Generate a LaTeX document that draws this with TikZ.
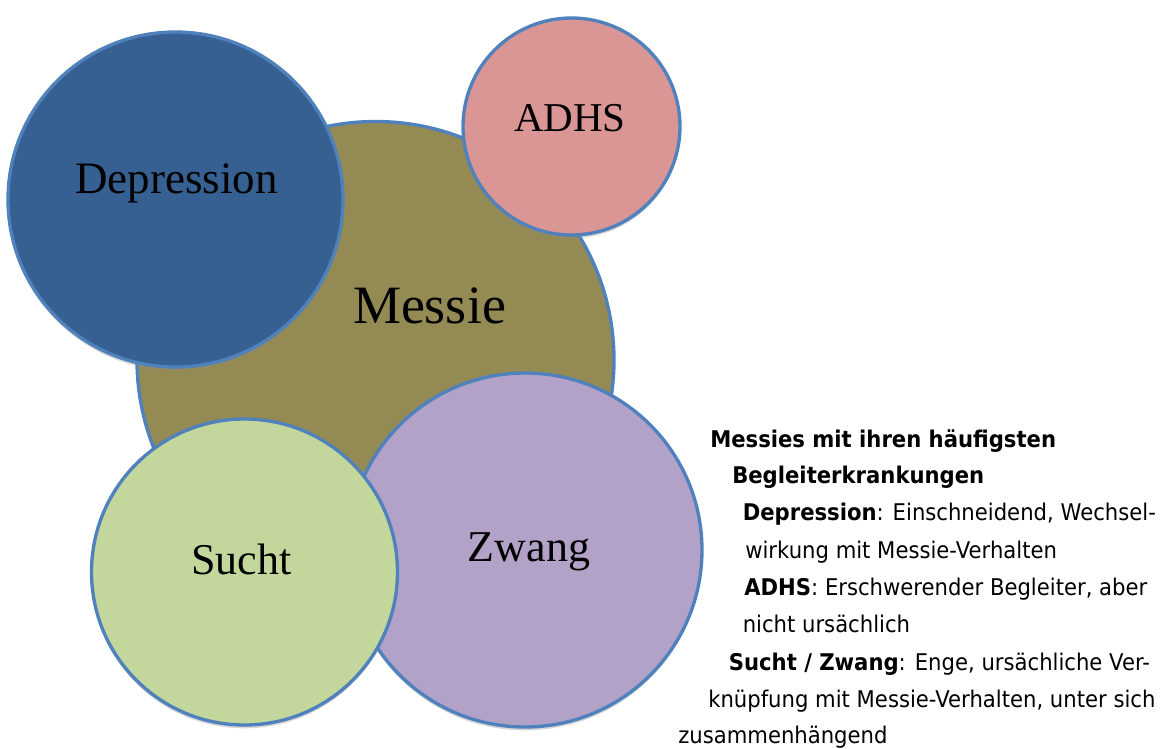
\documentclass[tikz,border=0pt]{standalone}
\usepackage{fontspec}
\setmainfont{Liberation Serif}
\newfontfamily\sidefont[FakeStretch=0.92]{DejaVu Sans}
\usetikzlibrary{shadows}
\definecolor{cStroke}{HTML}{4F81BD}
\definecolor{cDep}{HTML}{366092}
\definecolor{cMes}{HTML}{948A54}
\definecolor{cAdhs}{HTML}{D99694}
\definecolor{cSucht}{HTML}{C3D69B}
\definecolor{cZwang}{HTML}{B2A2C7}
\tikzset{
  blob/.style={circle, draw=cStroke, line width=2.5pt, inner sep=0pt, outer sep=0pt,
    drop shadow={shadow xshift=0pt, shadow yshift=-2.5pt, opacity=0.35, fill=black!45}},
  lab/.style={anchor=base, inner sep=0pt, text=black},
  side/.style={anchor=base west, inner sep=0pt, font=\sidefont\fontsize{17.25pt}{19pt}\selectfont}
}
\begin{document}
\begin{tikzpicture}[x=0.75pt,y=-0.75pt]
\useasboundingbox (0,0) rectangle (1165,749);
% circles
\node[blob, fill=cMes, minimum size=357.75pt] (mes) at (375.5,360) {};
\node[blob, fill=cDep, minimum size=251.25pt] (dep) at (175.5,199.5) {};
\node[blob, fill=cAdhs, minimum size=162.75pt] (adhs) at (571.5,126.5) {};
\node[blob, fill=cZwang, minimum size=265.5pt] (zwang) at (525,550) {};
\node[blob, fill=cSucht, minimum size=229.5pt] (sucht) at (244.5,572) {};
% labels
\node[lab, font=\fontsize{33.75pt}{36pt}\selectfont] (tdep) at (176.5,193) {Depression};
\node[lab, font=\fontsize{40.5pt}{44pt}\selectfont] (tmes) at (429.5,323) {Messie};
\node[lab, font=\fontsize{30.75pt}{34pt}\selectfont] (tadhs) at (570,132) {ADHS};
\node[lab, font=\fontsize{33pt}{36pt}\selectfont] (tsucht) at (241.5,574.5) {Sucht};
\node[lab, font=\fontsize{33pt}{36pt}\selectfont] (tzwang) at (529,561) {Zwang};
% side text
\node[side] (l1) at (710,447) {\bfseries Messies mit ihren häufigsten};
\node[side] (l2) at (732,483) {\bfseries Begleiterkrankungen};
\node[side] (l3) at (742.5,520) {{\bfseries Depression}: Einschneidend, Wechsel-};
\node[side] (l4) at (745,558) {wirkung mit Messie-Verhalten};
\node[side] (l5) at (744,595) {{\bfseries ADHS}: Erschwerender Begleiter, aber};
\node[side] (l6) at (742.5,632) {nicht ursächlich};
\node[side] (l7) at (728.6,670) {{\bfseries Sucht / Zwang}: Enge, ursächliche Ver-};
\node[side] (l8) at (708,707) {knüpfung mit Messie-Verhalten, unter sich};
\node[side] (l9) at (678,743) {zusammenhängend};
\end{tikzpicture}
\end{document}
